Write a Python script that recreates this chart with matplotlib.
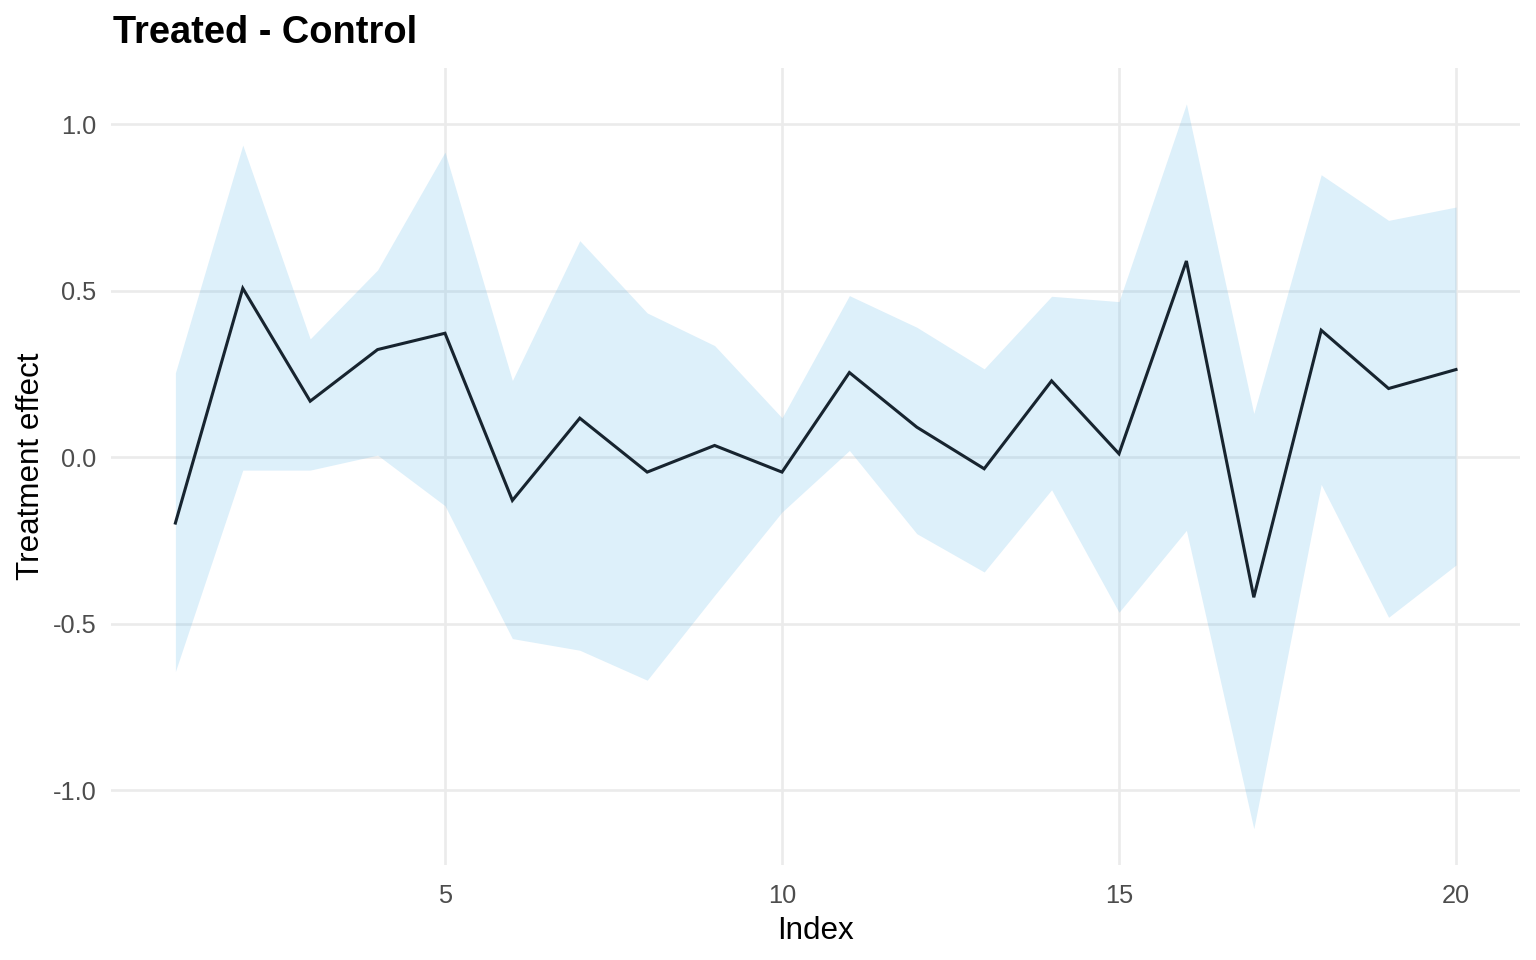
import matplotlib
matplotlib.use("Agg")
import matplotlib.pyplot as plt
import numpy as np

plt.rcParams['font.family'] = ['Liberation Sans', 'DejaVu Sans']

index = list(range(1, 21))
effect = [-0.198, 0.507, 0.168, 0.323, 0.372, -0.130, 0.117, -0.045, 0.035, -0.045,
          0.254, 0.090, -0.035, 0.229, 0.010, 0.589, -0.421, 0.381, 0.206, 0.263]
upper = [0.253, 0.937, 0.355, 0.562, 0.916, 0.230, 0.650, 0.433, 0.335, 0.118,
         0.485, 0.390, 0.265, 0.483, 0.467, 1.061, 0.131, 0.848, 0.711, 0.751]
lower = [-0.644, -0.039, -0.039, 0.006, -0.146, -0.545, -0.580, -0.670, -0.415, -0.165,
         0.020, -0.230, -0.345, -0.098, -0.466, -0.220, -1.116, -0.082, -0.481, -0.324]
x_ticks = [5, 10, 15, 20]
y_ticks = [-1.0, -0.5, 0.0, 0.5, 1.0]

fig = plt.figure(figsize=(16, 10), dpi=96)
ax = fig.add_axes([0.0725, 0.099, 0.9171, 0.8306])

ax.fill_between(index, lower, upper, color='#56B4E9', alpha=0.2, linewidth=0, zorder=2)
ax.plot(index, effect, color='#17242f', linewidth=2.3, zorder=3, solid_joinstyle='miter')

# ggplot-style expansion
xmin, xmax = min(index), max(index)
xr = xmax - xmin
ax.set_xlim(xmin - 0.05 * xr, xmax + 0.05 * xr)
ymin, ymax = min(lower), max(upper)
yr = ymax - ymin
ax.set_ylim(ymin - 0.05 * yr, ymax + 0.05 * yr)

ax.set_xticks(x_ticks)
ax.set_xticklabels([str(v) for v in x_ticks])
ax.set_yticks(y_ticks)
ax.set_yticklabels([f"{v:.1f}" for v in y_ticks])

ax.grid(True, color='#EBEBEB', linewidth=2.0, zorder=1)
ax.set_axisbelow(True)
for s in ax.spines.values():
    s.set_visible(False)
ax.tick_params(axis='both', length=0, labelsize=19, labelcolor='#4D4D4D')
ax.tick_params(axis='x', pad=14)
ax.tick_params(axis='y', pad=11)

ax.set_xlabel('Index', fontsize=23.5, color='black', labelpad=6)
ax.set_ylabel('Treatment effect', fontsize=23.5, color='black', labelpad=5)

fig.text(113 / 1536, 1 - 43 / 960, 'Treated - Control', fontsize=28.5, fontweight='bold',
         ha='left', va='baseline', color='black')

fig.savefig('out.png', dpi=96, facecolor='white')
